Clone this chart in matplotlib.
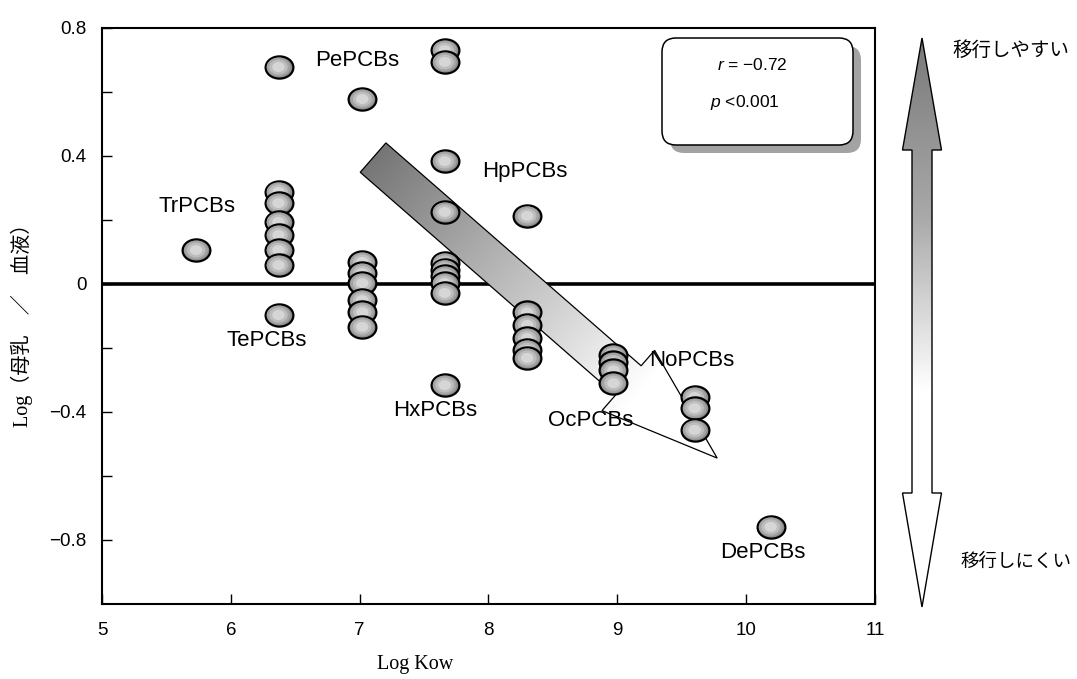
import numpy as np
import matplotlib
matplotlib.use("Agg")
import matplotlib.pyplot as plt
from matplotlib.path import Path
from matplotlib.patches import Polygon, FancyBboxPatch
from matplotlib.transforms import IdentityTransform
from matplotlib.colors import LinearSegmentedColormap

plt.rcParams["font.family"] = ["Liberation Sans", "Noto Sans CJK JP"]
plt.rcParams["mathtext.fontset"] = "custom"
plt.rcParams["mathtext.it"] = "Liberation Sans:italic"
plt.rcParams["mathtext.rm"] = "Liberation Sans"
plt.rcParams["axes.unicode_minus"] = True

# Log Kow of each PCB homologue group and log(breast milk / blood) ratios
tr_kow = 5.73
tr_ratio = [0.106]
te_kow = 6.37
te_ratio = [0.678, 0.288, 0.253, 0.194, 0.153, 0.106, 0.059, -0.097]
pe_kow = 7.02
pe_ratio = [0.578, 0.069, 0.034, 0.003, -0.050, -0.088, -0.134]
hx_kow = 7.66
hx_ratio = [0.731, 0.694, 0.384, 0.225, 0.066, 0.045, 0.025, 0.003, -0.028, -0.316]
hp_kow = 8.30
hp_ratio = [0.213, -0.089, -0.128, -0.169, -0.206, -0.231]
oc_kow = 8.97
oc_ratio = [-0.222, -0.245, -0.270, -0.310]
no_kow = 9.60
no_ratio = [-0.353, -0.388, -0.456]
de_kow = 10.19
de_ratio = [-0.759]

# group labels and where they sit (data units)
group_names = ["TrPCBs", "TePCBs", "PePCBs", "HxPCBs", "HpPCBs", "OcPCBs", "NoPCBs", "DePCBs"]
label_x = [5.74, 6.28, 6.98, 7.585, 8.28, 8.79, 9.58, 10.13]
label_y = [0.241, -0.178, 0.70, -0.394, 0.353, -0.428, -0.2375, -0.8375]

xticks = [5, 6, 7, 8, 9, 10, 11]
yticks = [-0.8, -0.4, 0, 0.4, 0.8]
ytick_labels = ["\u22120.8", "\u22120.4", "0", "0.4", "0.8"]
yminor = [-0.6, -0.2, 0.2, 0.6]

stats_r = "\u22120.72"
stats_p = "<0.001"

W, H = 1077, 679
fig = plt.figure(figsize=(W / 100, H / 100), dpi=100)
ax = fig.add_axes([102 / W, 1 - 604 / H, 773 / W, 576 / H])
ax.set_xlim(5, 11)
ax.set_ylim(-1.0, 0.8)

for s in ax.spines.values():
    s.set_linewidth(1.5)
    s.set_color("black")

ax.set_xticks(xticks)
ax.set_xticklabels([str(v) for v in xticks])
ax.set_yticks(yticks)
ax.set_yticklabels(ytick_labels)
ax.set_yticks(yminor, minor=True)
ax.tick_params(axis="both", which="both", direction="in", length=7, width=1,
               labelsize=13.5, colors="black")
ax.tick_params(axis="x", which="both", top=False, pad=13)
ax.tick_params(axis="y", which="both", right=False, pad=11)

ax.axhline(0, color="black", lw=2.6, zorder=2)

# diagonal trend arrow (gradient filled), built in screen space
tail = ax.transData.transform((7.104, 0.395))
tip = ax.transData.transform((9.775, -0.544))
d = tip - tail
L = np.hypot(*d)
u = d / L
n = np.array([-u[1], u[0]])
sw, hw, hl = 19.5, 40.0, 118.0
base = tail + u * (L - hl)
verts = np.array([tail + n * sw, base + n * sw, base + n * hw, tip,
                  base - n * hw, base - n * sw, tail - n * sw])
poly = Polygon(verts, closed=True, transform=IdentityTransform(),
               facecolor="none", edgecolor="black", lw=0.9, zorder=3.2)
ax.add_patch(poly)
x0, y0 = verts.min(axis=0)
x1, y1 = verts.max(axis=0)
gx, gy = np.meshgrid(np.linspace(x0, x1, 300), np.linspace(y0, y1, 300))
tt = ((gx - tail[0]) * u[0] + (gy - tail[1]) * u[1]) / L
gray_cmap = LinearSegmentedColormap.from_list("g", ["#767676", "#ffffff"])
im = ax.imshow(tt, extent=(x0, x1, y0, y1), origin="lower", cmap=gray_cmap,
               vmin=0.0, vmax=0.78, transform=IdentityTransform(),
               aspect="auto", interpolation="bilinear", zorder=3.1)
im.set_clip_path(poly)

# shaded oval markers
circ = Path.unit_circle()
oval = Path(circ.vertices * np.array([1.0, 0.8]), circ.codes)
shade_sizes = [400, 290, 180, 80]
shade_colors = ["#8c8c8c", "#a4a4a4", "#bdbdbd", "#d6d6d6"]

def draw_group(kow, ratios, z0):
    for i, r in enumerate(ratios):
        z = z0 + i * 0.01
        ax.scatter([kow], [r], s=shade_sizes[0], marker=oval,
                   facecolor=shade_colors[0], edgecolor="black",
                   linewidth=1.6, zorder=z)
        for k in range(1, len(shade_sizes)):
            ax.scatter([kow], [r], s=shade_sizes[k], marker=oval,
                       facecolor=shade_colors[k], edgecolor="none",
                       zorder=z + 0.001 * k)

draw_group(tr_kow, tr_ratio, 4)
draw_group(te_kow, te_ratio, 4)
draw_group(pe_kow, pe_ratio, 4)
draw_group(hx_kow, hx_ratio, 4)
draw_group(hp_kow, hp_ratio, 4)
draw_group(oc_kow, oc_ratio, 4)
draw_group(no_kow, no_ratio, 4)
draw_group(de_kow, de_ratio, 4)

for name, lx, ly in zip(group_names, label_x, label_y):
    ax.text(lx, ly, name, ha="center", va="center", fontsize=16, zorder=6)

ax.set_xlim(5, 11)
ax.set_ylim(-1.0, 0.8)

# axis titles
fig.text(22 / W, 1 - 320 / H, "Log（母乳\u3000／\u3000血液）", rotation=90,
         ha="center", va="center", fontsize=14.5,
         family=["Liberation Serif", "Noto Sans CJK JP"])
fig.text(415 / W, 1 - 664 / H, "Log Kow", ha="center", va="center",
         fontsize=14.5, family=["Liberation Serif"])

# overlay in pixel units for the side arrow and the statistics box
ov = fig.add_axes([0, 0, 1, 1], zorder=5)
ov.set_xlim(0, W)
ov.set_ylim(H, 0)
ov.axis("off")
ov.patch.set_alpha(0)

cx, top_tip, top_base, bot_base, bot_tip = 922, 38, 150, 493, 607
ahw, asw = 19.5, 10
side = np.array([(cx, top_tip), (cx + ahw, top_base), (cx + asw, top_base),
                 (cx + asw, bot_base), (cx + ahw, bot_base), (cx, bot_tip),
                 (cx - ahw, bot_base), (cx - asw, bot_base), (cx - asw, top_base),
                 (cx - ahw, top_base)])
side_poly = Polygon(side, closed=True, facecolor="none", edgecolor="black",
                    lw=1.0, zorder=3)
ov.add_patch(side_poly)
grad = np.linspace(0, 1, 400).reshape(-1, 1)
side_cmap = LinearSegmentedColormap.from_list("s", ["#7a7a7a", "#a8a8a8", "#ffffff"])
im2 = ov.imshow(grad, extent=(cx - ahw, cx + ahw, bot_tip, top_tip),
                origin="upper", cmap=side_cmap, vmin=0, vmax=0.62,
                aspect="auto", interpolation="bilinear", zorder=2)
im2.set_clip_path(side_poly)
ov.set_xlim(0, W)
ov.set_ylim(H, 0)

ov.text(952, 50, "移行しやすい", ha="left", va="center", fontsize=14,
        family=["Noto Sans CJK JP"])
ov.text(961, 562, "移行しにくい", ha="left", va="center", fontsize=13.3,
        family=["Noto Sans CJK JP"])

shadow = FancyBboxPatch((670, 46), 191, 107,
                        boxstyle="round,pad=0,rounding_size=14",
                        facecolor="#a3a3a3", edgecolor="none", zorder=3)
box = FancyBboxPatch((662, 38), 191, 107,
                     boxstyle="round,pad=0,rounding_size=14",
                     facecolor="white", edgecolor="black", lw=1.1, zorder=4)
ov.add_patch(shadow)
ov.add_patch(box)
ov.text(752, 65, "$r$ = " + stats_r, ha="center", va="center", fontsize=12.5, zorder=5)
ov.text(745, 103, "$p$ " + stats_p, ha="center", va="center", fontsize=12.5, zorder=5)

fig.savefig("out.png", dpi=100)
